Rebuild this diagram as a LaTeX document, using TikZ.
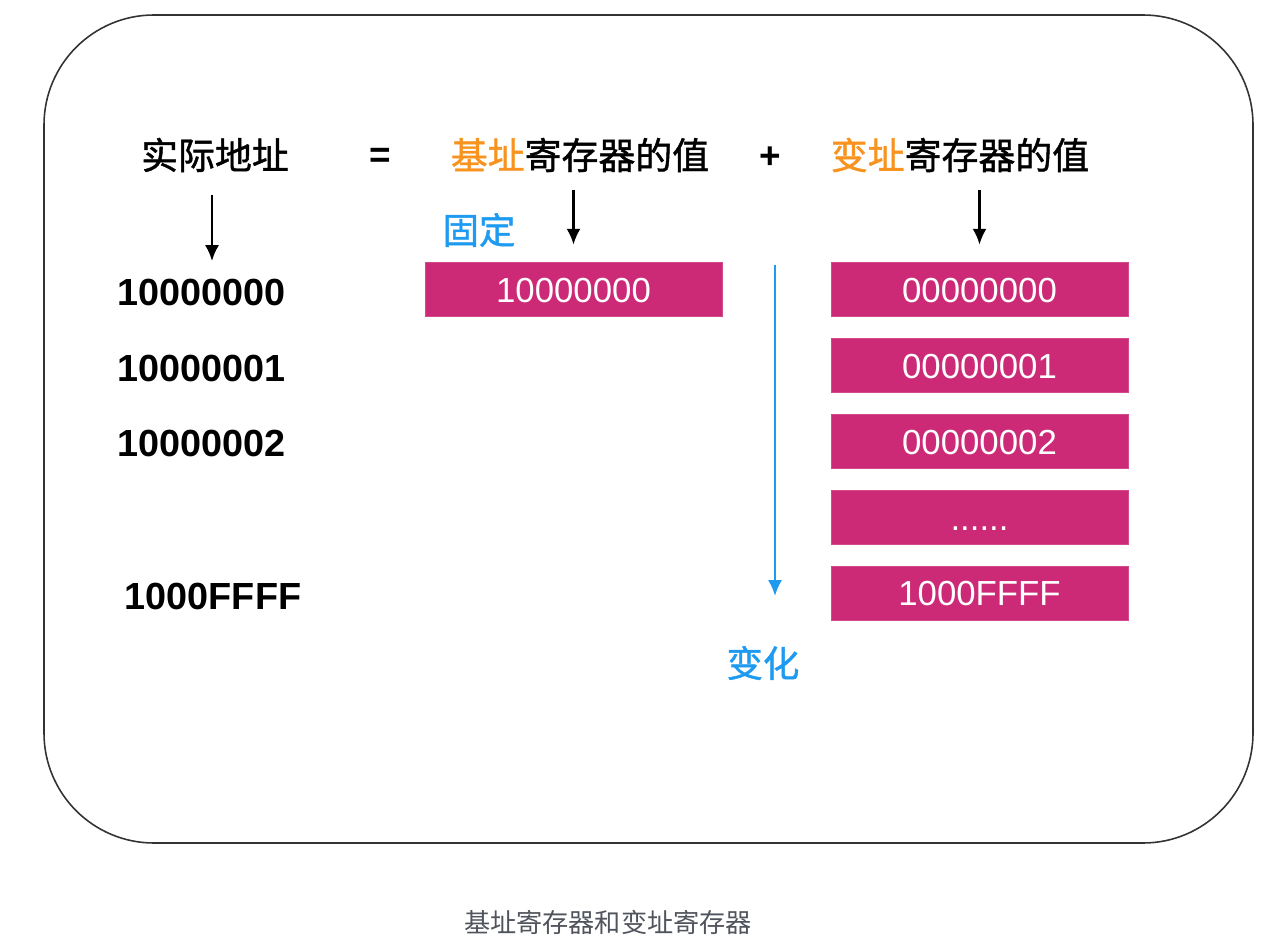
\documentclass[tikz,border=0pt]{standalone}
\usepackage{fontspec}
\setmainfont{Liberation Sans}
\newfontfamily\cjk{Noto Sans CJK SC}
\newfontfamily\cjkmid[FakeBold=1.2]{Noto Sans CJK SC}
\usepackage{xcolor}
\usepackage{tikz}
\usetikzlibrary{positioning,calc,arrows.meta}

\definecolor{cellpink}{RGB}{204,41,119}
\definecolor{hintblue}{RGB}{30,155,240}
\definecolor{keyorange}{RGB}{247,147,30}
\definecolor{capgray}{RGB}{80,84,92}

\begin{document}
\begin{tikzpicture}[x=0.02cm, y=-0.02cm]
				\tikzset{
					head/.style={font=\cjkmid\fontsize{21}{25}\selectfont, inner sep=0pt},
					sign/.style={font=\bfseries\fontsize{21}{25}\selectfont, inner sep=0pt},
					addr/.style={font=\bfseries\fontsize{21.5}{25}\selectfont, inner sep=0pt},
					cell/.style={fill=cellpink, draw=cellpink!85, minimum width=5.94cm, minimum height=1.08cm, inner sep=0pt, text height=14.3pt, text depth=0pt, text=white, font=\fontsize{19.8}{24}\selectfont},
					hint/.style={font=\cjkmid\fontsize{20.7}{25}\selectfont, text=hintblue, inner sep=0pt},
					arr/.style={draw=black, line width=1.3pt, -{Latex[length=9pt,width=8pt]}}
				}
				\useasboundingbox (0,0) rectangle (1280,952);
				
				% ---- frame ----
				\draw[line width=0.9pt, draw=black!80, rounded corners=2.2cm] (44,15) rectangle (1253,843);
				
				% ---- header line ----
				\node[head] (real) at (215,155) {实际地址};
				\node[sign] (eq) at (380,158) {=};
				\node[head] (base) at (580,155) {\textcolor{keyorange}{基址}寄存器的值};
				\node[sign] (plus) at (770,158) {+};
				\node[head] (index) at (960,155) {\textcolor{keyorange}{变址}寄存器的值};
				
				% ---- real addresses ----
				\node[addr] (a0) at (202,292) {10000000};
				\node[addr] (a1) at (202,368) {10000001};
				\node[addr] (a2) at (202,443) {10000002};
				\node[addr] (a3) at (213,596) {1000FFFF};
				
				% ---- base register ----
				\node[cell] (b0) at (573.5,289.5) {10000000};
				\node[hint] (fixed) at (479,230) {固定};
				
				% ---- index register ----
				\node[cell] (v0) at (979.5,289.5) {00000000};
				\node[cell] (v1) at (979.5,365.5) {00000001};
				\node[cell] (v2) at (979.5,441.5) {00000002};
				\node[cell] (v3) at (979.5,517.5) {......};
				\node[cell] (v4) at (979.5,593) {1000FFFF};
				
				% ---- arrows ----
				\coordinate (rtop) at (212,195);
				\coordinate (rbot) at (212,261);
				\draw[arr] (rtop) -- (rbot);
				\draw[arr, shorten <=10pt, shorten >=10pt] (base.south -| b0.north) -- (b0.north);
				\draw[arr, shorten <=10pt, shorten >=10pt] (index.south -| v0.north) -- (v0.north);
				
				\coordinate (vtop) at (775,265);
				\coordinate (vbot) at (775,596);
				\draw[draw=hintblue, line width=1.4pt, -{Latex[length=9pt,width=8pt]}] (vtop) -- (vbot);
				\node[hint] (change) at (763,663) {变化};
				
				% ---- caption ----
				\node[font=\cjk\fontsize{14.9}{18}\selectfont, text=capgray, inner sep=0pt] (cap) at (608,922) {基址寄存器和变址寄存器};
			\end{tikzpicture}
\end{document}
